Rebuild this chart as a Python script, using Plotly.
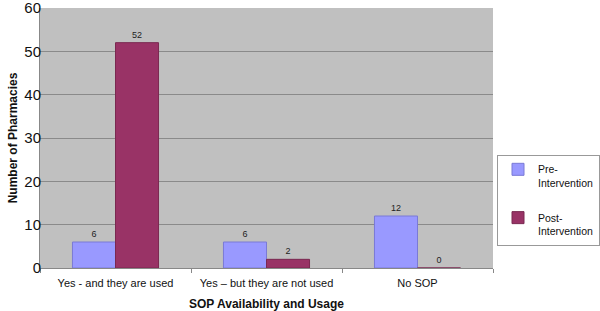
import plotly.graph_objects as go

categories = ["Yes - and they are used", "Yes \u2013 but they are not used", "No SOP"]
pre_values = [6, 6, 12]
post_values = [52, 2, 0]
series_names = ["Pre-<br>Intervention", "Post-<br>Intervention"]
y_ticks = [0, 10, 20, 30, 40, 50, 60]

fig = go.Figure()
fig.add_trace(go.Bar(
    x=categories, y=pre_values, name=series_names[0], legendgroup="pre",
    marker=dict(color="#9999FF", line=dict(color="#7a7ad6", width=1)),
    text=[str(v) for v in pre_values], textposition="outside",
    textfont=dict(size=9, color="#222222"), cliponaxis=False,
))
fig.add_trace(go.Bar(
    x=categories, y=post_values, name=series_names[1], legendgroup="post",
    marker=dict(color="#993366", line=dict(color="#7a2850", width=1)),
    text=[str(v) for v in post_values], textposition="outside",
    textfont=dict(size=9, color="#222222"), cliponaxis=False,
))

fig.update_layout(
    width=600, height=311,
    margin=dict(l=40, r=107, t=8, b=43, autoexpand=False),
    paper_bgcolor="white", plot_bgcolor="#C0C0C0",
    barmode="group", bargap=0.43, bargroupgap=0,
    font=dict(family="Liberation Sans, Arial, sans-serif", color="#111111"),
    showlegend=True,
    legend=dict(
        xref="container", yref="container",
        x=497 / 600, xanchor="left", y=1 - 155 / 311, yanchor="top",
        bordercolor="#999999", borderwidth=1, bgcolor="white",
        font=dict(size=10.5), tracegroupgap=18, itemwidth=30, valign="top",
    ),
    xaxis=dict(
        automargin=False,
        title=dict(text="<b>SOP Availability and Usage</b>", font=dict(size=12), standoff=14),
        tickfont=dict(size=11), ticks="outside", tickson="boundaries",
        ticklen=4, tickcolor="#888888", showline=True, linecolor="#888888",
        ticklabelstandoff=5,
    ),
    yaxis=dict(
        automargin=False,
        title=dict(text="<b>Number of Pharmacies</b>", font=dict(size=12), standoff=4),
        range=[0, 60], tickvals=y_ticks, tickfont=dict(size=15),
        ticklabeloverflow="allow", ticks="", ticklabelstandoff=-5,
        showgrid=True, gridcolor="#8a8a8a", gridwidth=1,
        showline=True, linecolor="#888888", zeroline=False,
    ),
)

fig.write_html(
    "out.html",
    config={"displayModeBar": False},
    post_script="document.body.style.margin='0';document.body.style.padding='0';",
)
